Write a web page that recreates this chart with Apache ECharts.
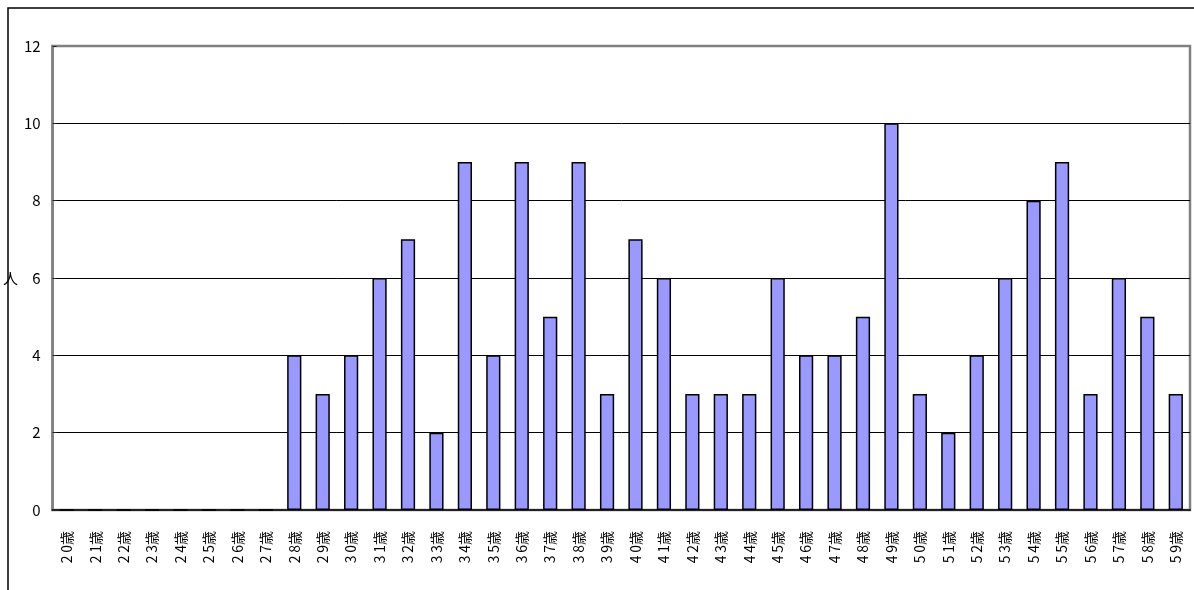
<!DOCTYPE html>
<html>
<head>
<meta charset="utf-8">
<script src="https://cdn.jsdelivr.net/npm/echarts@6/dist/echarts.min.js"></script>
<style>
  html, body { margin: 0; padding: 0; background: #fff; }
  #main { width: 1194px; height: 590px; }
</style>
</head>
<body>
<div id="main"></div>
<script>
// 年齢別の人数
var ages = [];
for (var a = 20; a <= 59; a++) ages.push(a + '歳');

var counts = [0, 0, 0, 0, 0, 0, 0, 0,
    4, 3, 4, 6, 7, 2, 9, 4, 9, 5, 9, 3,
    7, 6, 3, 3, 3, 6, 4, 4, 5, 10, 3, 2,
    4, 6, 8, 9, 3, 6, 5, 3];

var yTicks = [0, 2, 4, 6, 8, 10, 12];

var font = '"Noto Sans CJK JP", "DejaVu Sans", sans-serif';

var myChart = echarts.init(document.getElementById('main'));

myChart.setOption({
    animation: false,
    backgroundColor: '#fff',
    // 外枠
    graphic: [{
        type: 'rect',
        shape: { x: 8, y: 8, width: 1200, height: 600 },
        style: { fill: 'none', stroke: '#000', lineWidth: 1.5 },
        silent: true
    }],
    grid: {
        left: 48, top: 46, right: 4, bottom: 80,
        show: true,
        borderColor: '#808080',
        borderWidth: 2.5,
        backgroundColor: '#fff'
    },
    xAxis: {
        type: 'category',
        data: ages,
        axisLine: { lineStyle: { color: '#222', width: 2 } },
        axisTick: { inside: true, length: 5, lineStyle: { color: '#222' } },
        axisLabel: {
            rotate: 90,
            interval: 0,
            margin: 21,
            fontSize: 14,
            color: '#000',
            fontFamily: font,
            // 数字の間を少し空ける
            formatter: function (v) {
                return v.replace(/(\d)(?=\d)/g, '$1\u2009');
            }
        }
    },
    yAxis: {
        type: 'value',
        min: yTicks[0],
        max: yTicks[yTicks.length - 1],
        interval: 2,
        name: '人',
        nameLocation: 'middle',
        nameRotate: 0,
        nameGap: 24,
        nameTextStyle: { fontSize: 15, color: '#000', fontFamily: font },
        axisLine: { show: true, lineStyle: { color: '#808080', width: 2.5 } },
        axisTick: { show: true, length: 4, inside: true, lineStyle: { color: '#222' } },
        axisLabel: { fontSize: 15, color: '#000', margin: 12, fontFamily: font },
        splitLine: { showMaxLine: false, lineStyle: { color: '#000', width: 1 } }
    },
    series: [{
        type: 'bar',
        data: counts,
        barWidth: '50%',
        itemStyle: { color: '#9999ff', borderColor: '#000', borderWidth: 1.5 }
    }]
});
</script>
</body>
</html>
